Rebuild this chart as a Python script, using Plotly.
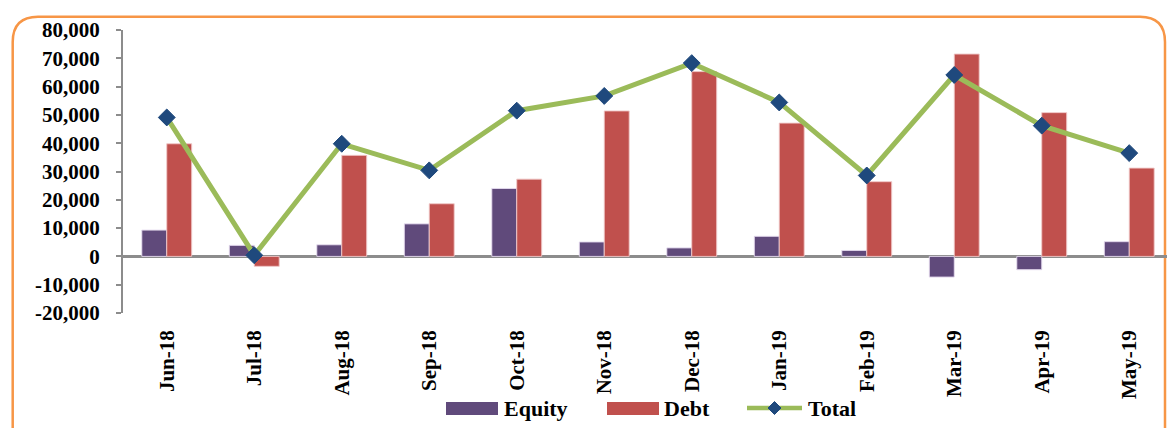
import plotly.graph_objects as go

months = ["Jun-18", "Jul-18", "Aug-18", "Sep-18", "Oct-18", "Nov-18",
          "Dec-18", "Jan-19", "Feb-19", "Mar-19", "Apr-19", "May-19"]
equity = [9300, 3900, 4100, 11500, 24000, 5100, 3000, 7100, 2100, -7300, -4700, 5200]
debt = [39800, -3500, 35700, 18600, 27300, 51400, 65300, 47100, 26400, 71500, 50800, 31200]
total = [49100, 400, 39800, 30400, 51500, 56700, 68300, 54400, 28600, 64100, 46200, 36500]
ytick_vals = [-20000, -10000, 0, 10000, 20000, 30000, 40000, 50000, 60000, 70000, 80000]
ytick_text = ["-20,000", "-10,000", "0", "10,000", "20,000", "30,000", "40,000",
              "50,000", "60,000", "70,000", "80,000"]
series_names = ["Equity", "Debt", "Total"]
colors = {"Equity": "#604A7B", "Debt": "#C0504D", "Total": "#9BBB59", "marker": "#1F497D"}

W, H = 1167, 428
L, R, T, B = 123, 0, 30, 115
pw, ph = W - L - R, H - T - B

def px2paper(x, y):
    return (x - L) / pw, (H - B - y) / ph

font_family = "Liberation Serif, Times New Roman, serif"

fig = go.Figure()
fig.add_trace(go.Bar(name="Equity", x=months, y=equity, showlegend=False,
                     marker=dict(color=colors["Equity"], line=dict(color="rgba(230,220,240,0.9)", width=1))))
fig.add_trace(go.Bar(name="Debt", x=months, y=debt, showlegend=False,
                     marker=dict(color=colors["Debt"], line=dict(color="rgba(240,200,200,0.9)", width=1))))
fig.add_trace(go.Scatter(name="Total", x=months, y=total, mode="lines+markers", showlegend=False,
                         line=dict(color=colors["Total"], width=5),
                         marker=dict(symbol="diamond", size=13, color=colors["marker"],
                                     line=dict(color=colors["marker"], width=1))))

def path_from(points, closed=False):
    pp = [px2paper(x, y) for x, y in points]
    s = "M " + " L ".join(f"{a},{b}" for a, b in pp)
    return s + (" Z" if closed else "")

# orange rounded border
pts = [(12.7, 440), (12.7, 42), (12.7, 16.7), (38, 16.7), (1140, 16.7), (1165, 16.7), (1165, 42), (1165, 440)]
pp = [px2paper(x, y) for x, y in pts]
path = (f"M {pp[0][0]},{pp[0][1]} L {pp[1][0]},{pp[1][1]} Q {pp[2][0]},{pp[2][1]} {pp[3][0]},{pp[3][1]} "
        f"L {pp[4][0]},{pp[4][1]} Q {pp[5][0]},{pp[5][1]} {pp[6][0]},{pp[6][1]} L {pp[7][0]},{pp[7][1]}")
fig.add_shape(type="path", path=path, xref="paper", yref="paper",
              line=dict(color="#F79646", width=2.5), layer="below")

# legend (drawn manually to match wide swatches)
leg_y = 408
for name, x0, x1, tx in [("Equity", 446, 498, 502), ("Debt", 607, 659, 662)]:
    a = px2paper(x0, 402)
    b = px2paper(x1, 415)
    fig.add_shape(type="rect", xref="paper", yref="paper", x0=a[0], y0=a[1], x1=b[0], y1=b[1],
                  fillcolor=colors[name], line=dict(width=0))
    t = px2paper(tx, leg_y)
    fig.add_annotation(xref="paper", yref="paper", x=t[0], y=t[1], text=name, showarrow=False,
                       xanchor="left", yanchor="middle",
                       font=dict(size=22, family=font_family, color="black", weight="bold"))
a = px2paper(747, leg_y)
b = px2paper(802, leg_y)
fig.add_shape(type="line", xref="paper", yref="paper", x0=a[0], y0=a[1], x1=b[0], y1=b[1],
              line=dict(color=colors["Total"], width=4.5))
cx, cy, r = 774.5, leg_y, 6.5
fig.add_shape(type="path", xref="paper", yref="paper",
              path=path_from([(cx, cy - r), (cx + r, cy), (cx, cy + r), (cx - r, cy)], closed=True),
              fillcolor=colors["marker"], line=dict(color=colors["marker"], width=1))
t = px2paper(806, leg_y)
fig.add_annotation(xref="paper", yref="paper", x=t[0], y=t[1], text="Total", showarrow=False,
                   xanchor="left", yanchor="middle",
                   font=dict(size=22, family=font_family, color="black", weight="bold"))

fig.update_layout(
    width=W, height=H,
    margin=dict(l=L, r=R, t=T, b=B),
    paper_bgcolor="white", plot_bgcolor="white",
    barmode="group", bargap=0.43, bargroupgap=0,
    font=dict(family=font_family, color="black"),
    showlegend=False,
    xaxis=dict(range=[-0.5, -0.5 + pw / 87.5], showline=False, showgrid=False, ticks="",
               tickangle=-90, tickfont=dict(size=21, family=font_family, color="black", weight="bold"),
               ticklabelstandoff=12),
    yaxis=dict(range=[-20000, 80000], tickvals=ytick_vals, ticktext=ytick_text,
               showgrid=False, showline=True, linecolor="#8C8C8C", linewidth=2,
               ticks="outside", ticklen=5, tickcolor="#8C8C8C", tickwidth=1.5,
               zeroline=True, zerolinecolor="#8C8C8C", zerolinewidth=2.5,
               tickfont=dict(size=21, family=font_family, color="black", weight="bold"),
               ticklabelstandoff=12),
)

fig.write_html("out.html", config={"displayModeBar": False},
               post_script="document.body.style.margin='0';document.body.style.overflow='hidden';")
